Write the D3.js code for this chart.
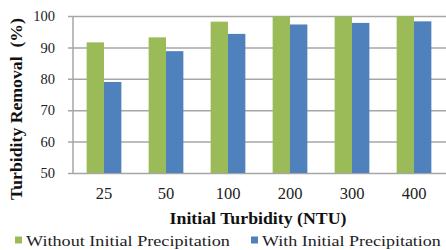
<!DOCTYPE html>
<html>
<head>
<meta charset="utf-8">
<script src="https://cdn.jsdelivr.net/npm/d3@7"></script>
<style>
  body { margin: 0; background: #fff; }
  svg { display: block; font-family: "Liberation Serif", serif; }
</style>
</head>
<body>
<svg id="chart" width="446" height="250"></svg>
<script>
// data
var categories = ["25", "50", "100", "200", "300", "400"];
var seriesNames = ["Without Initial Precipitation", "With Initial Precipitation"];
var withoutPrecip = [91.6, 93.2, 98.2, 99.9, 99.8, 99.9];
var withPrecip = [79.0, 88.8, 94.3, 97.3, 97.8, 98.3];
var yTicks = [50, 60, 70, 80, 90, 100];
var colors = ["#9bbb59", "#4f81bd"];

var svg = d3.select("#chart");

// plot area
var pLeft = 73, pRight = 445, pTop = 16, pBottom = 173;

var x0 = d3.scaleBand()
	.domain(categories)
	.range([pLeft, pRight])
	.paddingInner(0.44)
	.paddingOuter(0.22);

var x1 = d3.scaleBand()
	.domain([0, 1])
	.range([0, x0.bandwidth()]);

var y = d3.scaleLinear()
	.domain([50, 100])
	.range([pBottom, pTop]);

// stretch a text horizontally to a given width (the source figure is a bit wide)
function fitWidth(sel, w, x, yy, anchor) {
	sel.each(function(d, i) {
		var t = d3.select(this);
		var target = typeof w === "function" ? w(d, i) : w;
		var len = this.getComputedTextLength();
		var px = typeof x === "function" ? x(d, i) : x;
		t.attr("x", 0).attr("y", 0)
			.attr("text-anchor", anchor)
			.attr("transform", "translate(" + px + "," + yy + ") scale(" + (target / len) + ",1)");
	});
}

// gridlines + left axis
var yAxis = d3.axisLeft(y)
	.tickValues(yTicks)
	.tickSize(-(446 - pLeft))
	.tickSizeOuter(0)
	.tickPadding(18);

var gy = svg.append("g")
	.attr("transform", "translate(" + pLeft + ",0)")
	.call(yAxis)
	.attr("font-family", null)
	.attr("font-size", null);
gy.select(".domain").remove();
gy.selectAll(".tick line")
	.attr("x1", -5)
	.attr("stroke", "#a6a6a6")
	.attr("stroke-width", 1.5);
gy.selectAll(".tick text")
	.attr("font-size", 14.5)
	.attr("fill", "#222")
	.attr("dy", "0.33em");

// vertical axis line
svg.append("line")
	.attr("x1", pLeft).attr("x2", pLeft)
	.attr("y1", pTop).attr("y2", pBottom)
	.attr("stroke", "#a6a6a6")
	.attr("stroke-width", 1.5);

// bars
var rows = categories.map(function(c, i) {
	return { cat: c, vals: [withoutPrecip[i], withPrecip[i]] };
});

var groups = svg.append("g").selectAll("g")
	.data(rows)
	.enter()
	.append("g")
	.attr("transform", d => "translate(" + x0(d.cat) + ",0)");

groups.selectAll("rect")
	.data(d => d.vals.map((v, k) => ({ k: k, v: v })))
	.enter()
	.append("rect")
	.attr("x", d => x1(d.k))
	.attr("width", x1.bandwidth())
	.attr("y", d => y(d.v))
	.attr("height", d => y(50) - y(d.v))
	.attr("fill", d => colors[d.k]);

// x axis labels
var xAxis = d3.axisBottom(x0).tickSize(0).tickPadding(14);
var gx = svg.append("g")
	.attr("transform", "translate(0," + pBottom + ")")
	.call(xAxis)
	.attr("font-family", null)
	.attr("font-size", null);
gx.select(".domain").remove();
gx.selectAll(".tick text")
	.attr("font-size", 16.5)
	.attr("fill", "#222");

// axis titles
svg.append("text")
	.attr("font-size", 16)
	.attr("font-weight", "bold")
	.attr("fill", "#111")
	.text("Initial Turbidity (NTU)")
	.call(fitWidth, 177, 258, 224, "middle");

svg.append("text")
	.attr("font-size", 16)
	.attr("font-weight", "bold")
	.attr("fill", "#111")
	.attr("xml:space", "preserve")
	.text("Turbidity Removal  (%)")
	.each(function() {
		var len = this.getComputedTextLength();
		d3.select(this)
			.attr("text-anchor", "middle")
			.attr("transform", "translate(22,109) rotate(-90) scale(" + (182 / len) + ",1)");
	});

// legend
var legendX = [15, 251];
var legendW = [204, 179];
var legend = svg.append("g").selectAll("g")
	.data(seriesNames)
	.enter()
	.append("g")
	.attr("transform", (d, i) => "translate(" + legendX[i] + ",240)");

legend.append("rect")
	.attr("x", 0).attr("y", -3.5)
	.attr("width", 7).attr("height", 7)
	.attr("fill", (d, i) => colors[i]);

legend.append("text")
	.attr("font-size", 15.5)
	.attr("fill", "#222")
	.text(d => d)
	.call(fitWidth, (d, i) => legendW[i], 11, 5.5, "start");
</script>
</body>
</html>
